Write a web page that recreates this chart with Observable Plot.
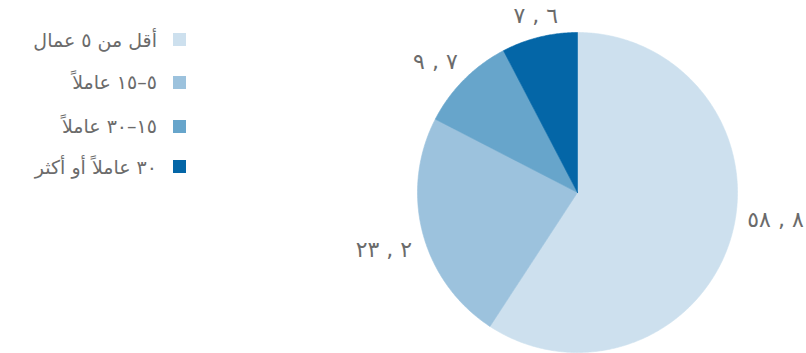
<!DOCTYPE html>
<html>
<head>
<meta charset="utf-8">
<script src="https://cdn.jsdelivr.net/npm/d3@7"></script>
<script src="https://cdn.jsdelivr.net/npm/@observablehq/plot@0.6"></script>
<style>
  html, body { margin: 0; padding: 0; background: #fff; }
  #wrap { position: relative; width: 806px; height: 353px; }
  #legend { position: absolute; left: 0; top: 0; width: 190px; font-family: "DejaVu Sans", sans-serif; }
  .row { position: absolute; right: 4px; display: flex; align-items: center; gap: 16px; direction: ltr; }
  .row span.t { direction: rtl; font-size: 19px; color: #6b6b6b; white-space: nowrap; }
  .row span.s { width: 13px; height: 13px; display: inline-block; }
  #chart { position: absolute; left: 0; top: 0; }
</style>
</head>
<body>
<div id="wrap">
  <div id="chart"></div>
  <div id="legend"></div>
</div>
<script>
// ---- data ----
const categories = ["أقل من ٥ عمال", "٥–١٥ عاملاً", "١٥–٣٠ عاملاً", "٣٠ عاملاً أو أكثر"];
const values = [58.8, 23.2, 9.7, 7.6];
const valueLabels = ["٥٨ , ٨", "٢٣ , ٢", "٩ , ٧", "٧ , ٦"];

// ---- style ----
const colors = ["#cde0ee", "#9cc2dd", "#67a5cb", "#0466a7"];
const labelNudge = [[14, -27], [-8, 8], [-6, 5], [4, 10]];

const pie = d3.pie().sort(null).value(d => d)(values);

// polygon points for each slice, in unit-radius coordinates
const pts = [];
pie.forEach((p, i) => {
  pts.push({cat: categories[i], x: 0, y: 0});
  const n = Math.max(2, Math.ceil((p.endAngle - p.startAngle) / (Math.PI / 360)));
  for (let k = 0; k <= n; k++) {
    const a = p.startAngle + (p.endAngle - p.startAngle) * k / n;
    pts.push({cat: categories[i], x: Math.sin(a), y: Math.cos(a)});
  }
  pts.push({cat: categories[i], x: 0, y: 0});
});

const lbl = pie.map((p, i) => {
  const a = (p.startAngle + p.endAngle) / 2;
  const r = 1.2;
  return {x: r * Math.sin(a) , y: r * Math.cos(a), text: "\u200E" + valueLabels[i].replace(" , ", "\u200E , \u200E") + "\u200E", i};
});

const R = 160, CX = 577, CY = 192;
const marks = categories.map((c, i) =>
  Plot.line(pts.filter(d => d.cat === c), {x: "x", y: "y", fill: colors[i], stroke: colors[i], strokeWidth: 0.6, curve: "linear"})
);
lbl.forEach(d => {
  marks.push(Plot.text([d], {x: "x", y: "y", text: "text", dx: labelNudge[d.i][0], dy: labelNudge[d.i][1],
    fontSize: 22, fill: "#6b6b6b", fontFamily: "DejaVu Sans", textAnchor: "middle"}));
});

const chart = Plot.plot({
  width: 806,
  height: 353,
  margin: 0,
  x: {domain: [-1, 1], range: [CX - R, CX + R], axis: null},
  y: {domain: [-1, 1], range: [CY + R, CY - R], axis: null},
  style: {background: "transparent", overflow: "visible"},
  marks
});
document.getElementById("chart").appendChild(chart);

// legend
const rowY = [39.5, 82, 126, 166.5];
const leg = document.getElementById("legend");
categories.forEach((c, i) => {
  const row = document.createElement("div");
  row.className = "row";
  row.style.top = (rowY[i] - 13) + "px";
  row.style.height = "26px";
  row.innerHTML = `<span class="t">${c}</span><span class="s" style="background:${colors[i]}"></span>`;
  leg.appendChild(row);
});
</script>
</body>
</html>
